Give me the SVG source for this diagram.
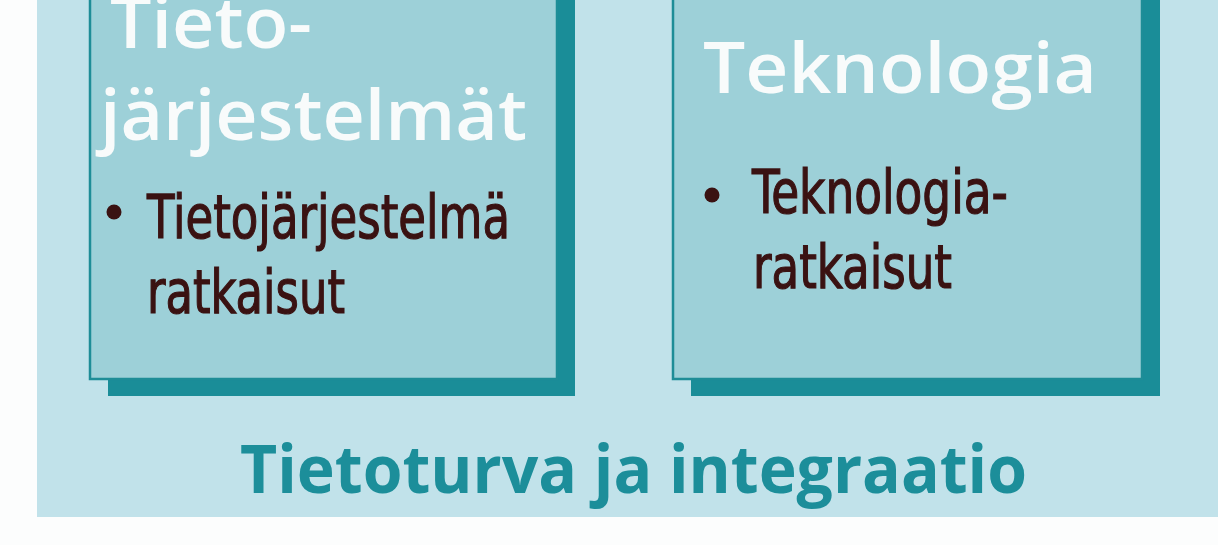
<svg xmlns="http://www.w3.org/2000/svg" width="1218" height="545" viewBox="0 0 1218 545">
<style>
.shadow{fill:#1a8d98}
.box{fill:#9dd0d8;stroke:#1e8d97;stroke-width:2.5}
.head{font-family:"Open Sans","Noto Sans","Liberation Sans",sans-serif;font-weight:600;font-size:70px;fill:#f8fbfb}
.item{font-family:"Liberation Sans Narrow","DejaVu Sans Condensed","Open Sans",sans-serif;font-weight:normal;font-size:61px;fill:#3a1212;stroke:#3a1212;stroke-width:1.2}
.title{font-family:"Open Sans","Noto Sans","Liberation Sans",sans-serif;font-weight:700;font-size:66px;fill:#1c8e9a}
</style>
<rect x="0" y="0" width="1218" height="545" fill="#fcfdfd"/>
<rect x="37" y="0" width="1181" height="517" fill="#c1e2ea"/>
<g id="node-tietojarjestelmat">
<rect class="shadow" x="108" y="-3" width="467" height="399"/>
<rect class="box" x="90" y="-20" width="467" height="399"/>
<text class="head" x="110" y="48" textLength="202" lengthAdjust="spacingAndGlyphs">Tieto-</text>
<text class="head" x="100" y="140" textLength="427" lengthAdjust="spacingAndGlyphs">järjestelmät</text>
<circle cx="114" cy="212" r="7.5" fill="#3a1212"/>
<text class="item" x="147" y="238" textLength="363" lengthAdjust="spacingAndGlyphs">Tietojärjestelmä</text>
<text class="item" x="147" y="313" textLength="198" lengthAdjust="spacingAndGlyphs">ratkaisut</text>
</g>
<g id="node-teknologia">
<rect class="shadow" x="691" y="-3" width="469" height="399"/>
<rect class="box" x="673" y="-20" width="469" height="399"/>
<text class="head" x="703" y="93" textLength="394" lengthAdjust="spacingAndGlyphs">Teknologia</text>
<circle cx="712" cy="195" r="7.5" fill="#3a1212"/>
<text class="item" x="752" y="213" textLength="256" lengthAdjust="spacingAndGlyphs">Teknologia-</text>
<text class="item" x="753" y="288" textLength="199" lengthAdjust="spacingAndGlyphs">ratkaisut</text>
</g>
<g id="connectors"/>
<text class="title" x="240" y="493" textLength="787" lengthAdjust="spacingAndGlyphs">Tietoturva ja integraatio</text>
</svg>
